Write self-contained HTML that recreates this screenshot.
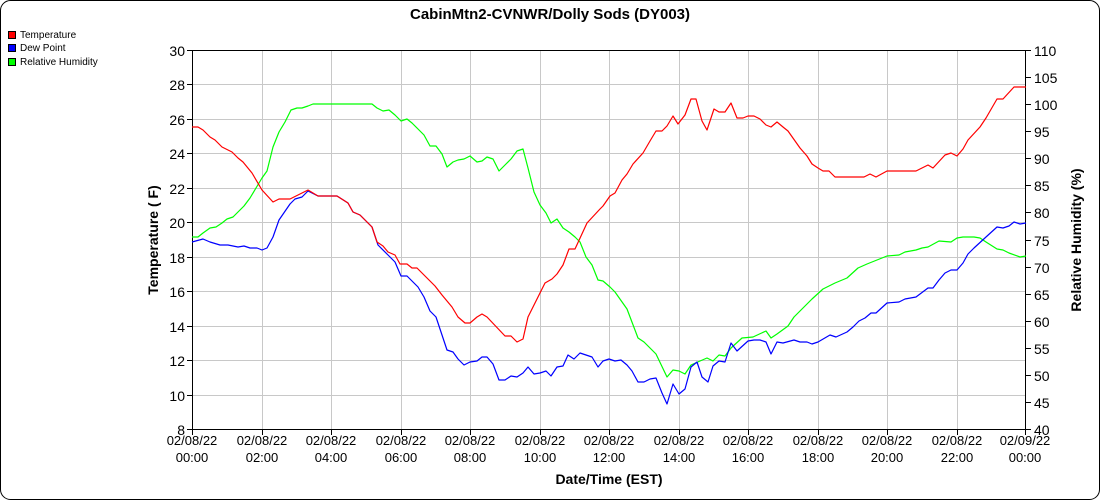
<!DOCTYPE html>
<html><head><meta charset="utf-8"><style>
html,body{margin:0;padding:0;background:#fff}
svg{display:block;font-family:"Liberation Sans",Arial,sans-serif}
</style></head><body>
<svg width="1100" height="500" viewBox="0 0 1100 500" xmlns="http://www.w3.org/2000/svg">
<rect x="0.5" y="0.5" width="1099" height="499" rx="10" ry="10" fill="#fff" stroke="#000"/>
<text x="550" y="19" text-anchor="middle" font-size="15" font-weight="bold">CabinMtn2-CVNWR/Dolly Sods (DY003)</text>
<rect x="8.5" y="31.5" width="7" height="7" fill="#f00" stroke="#000"/>
<text x="20" y="38" font-size="10">Temperature</text>
<rect x="8.5" y="44.5" width="7" height="7" fill="#00f" stroke="#000"/>
<text x="20" y="51" font-size="10">Dew Point</text>
<rect x="8.5" y="58.5" width="7" height="7" fill="#0f0" stroke="#000"/>
<text x="20" y="65" font-size="10">Relative Humidity</text>
<g stroke="#c8c8c8" stroke-width="1">
<line x1="192" y1="84.5" x2="1026" y2="84.5"/><line x1="192" y1="119.5" x2="1026" y2="119.5"/><line x1="192" y1="153.5" x2="1026" y2="153.5"/><line x1="192" y1="188.5" x2="1026" y2="188.5"/><line x1="192" y1="222.5" x2="1026" y2="222.5"/><line x1="192" y1="257.5" x2="1026" y2="257.5"/><line x1="192" y1="291.5" x2="1026" y2="291.5"/><line x1="192" y1="326.5" x2="1026" y2="326.5"/><line x1="192" y1="360.5" x2="1026" y2="360.5"/><line x1="192" y1="395.5" x2="1026" y2="395.5"/>
<line x1="262.5" y1="50" x2="262.5" y2="430"/><line x1="331.5" y1="50" x2="331.5" y2="430"/><line x1="401.5" y1="50" x2="401.5" y2="430"/><line x1="470.5" y1="50" x2="470.5" y2="430"/><line x1="540.5" y1="50" x2="540.5" y2="430"/><line x1="609.5" y1="50" x2="609.5" y2="430"/><line x1="679.5" y1="50" x2="679.5" y2="430"/><line x1="748.5" y1="50" x2="748.5" y2="430"/><line x1="818.5" y1="50" x2="818.5" y2="430"/><line x1="887.5" y1="50" x2="887.5" y2="430"/><line x1="957.5" y1="50" x2="957.5" y2="430"/>
</g>
<rect x="192.5" y="50.5" width="833" height="379" fill="none" stroke="#000"/>
<g stroke="#000">
<line x1="187" y1="50.5" x2="192" y2="50.5"/><line x1="187" y1="84.5" x2="192" y2="84.5"/><line x1="187" y1="119.5" x2="192" y2="119.5"/><line x1="187" y1="153.5" x2="192" y2="153.5"/><line x1="187" y1="188.5" x2="192" y2="188.5"/><line x1="187" y1="222.5" x2="192" y2="222.5"/><line x1="187" y1="257.5" x2="192" y2="257.5"/><line x1="187" y1="291.5" x2="192" y2="291.5"/><line x1="187" y1="326.5" x2="192" y2="326.5"/><line x1="187" y1="360.5" x2="192" y2="360.5"/><line x1="187" y1="395.5" x2="192" y2="395.5"/><line x1="187" y1="429.5" x2="192" y2="429.5"/>
<line x1="1026" y1="50.5" x2="1031" y2="50.5"/><line x1="1026" y1="77.5" x2="1031" y2="77.5"/><line x1="1026" y1="104.5" x2="1031" y2="104.5"/><line x1="1026" y1="131.5" x2="1031" y2="131.5"/><line x1="1026" y1="158.5" x2="1031" y2="158.5"/><line x1="1026" y1="185.5" x2="1031" y2="185.5"/><line x1="1026" y1="212.5" x2="1031" y2="212.5"/><line x1="1026" y1="240.5" x2="1031" y2="240.5"/><line x1="1026" y1="267.5" x2="1031" y2="267.5"/><line x1="1026" y1="294.5" x2="1031" y2="294.5"/><line x1="1026" y1="321.5" x2="1031" y2="321.5"/><line x1="1026" y1="348.5" x2="1031" y2="348.5"/><line x1="1026" y1="375.5" x2="1031" y2="375.5"/><line x1="1026" y1="402.5" x2="1031" y2="402.5"/><line x1="1026" y1="429.5" x2="1031" y2="429.5"/>
<line x1="192.5" y1="430" x2="192.5" y2="435"/><line x1="262.5" y1="430" x2="262.5" y2="435"/><line x1="331.5" y1="430" x2="331.5" y2="435"/><line x1="401.5" y1="430" x2="401.5" y2="435"/><line x1="470.5" y1="430" x2="470.5" y2="435"/><line x1="540.5" y1="430" x2="540.5" y2="435"/><line x1="609.5" y1="430" x2="609.5" y2="435"/><line x1="679.5" y1="430" x2="679.5" y2="435"/><line x1="748.5" y1="430" x2="748.5" y2="435"/><line x1="818.5" y1="430" x2="818.5" y2="435"/><line x1="887.5" y1="430" x2="887.5" y2="435"/><line x1="957.5" y1="430" x2="957.5" y2="435"/><line x1="1025.5" y1="430" x2="1025.5" y2="435"/>
</g>
<g font-size="14" text-anchor="end">
<text x="185" y="56">30</text><text x="185" y="90">28</text><text x="185" y="125">26</text><text x="185" y="159">24</text><text x="185" y="194">22</text><text x="185" y="228">20</text><text x="185" y="263">18</text><text x="185" y="297">16</text><text x="185" y="332">14</text><text x="185" y="366">12</text><text x="185" y="401">10</text><text x="185" y="435">8</text>
</g>
<g font-size="14">
<text x="1034" y="56">110</text><text x="1034" y="83">105</text><text x="1034" y="110">100</text><text x="1034" y="137">95</text><text x="1034" y="164">90</text><text x="1034" y="191">85</text><text x="1034" y="218">80</text><text x="1034" y="246">75</text><text x="1034" y="273">70</text><text x="1034" y="300">65</text><text x="1034" y="327">60</text><text x="1034" y="354">55</text><text x="1034" y="381">50</text><text x="1034" y="408">45</text><text x="1034" y="435">40</text>
</g>
<g font-size="13" text-anchor="middle">
<text x="192" y="445">02/08/22</text><text x="192" y="462">00:00</text>
<text x="262" y="445">02/08/22</text><text x="262" y="462">02:00</text>
<text x="331" y="445">02/08/22</text><text x="331" y="462">04:00</text>
<text x="401" y="445">02/08/22</text><text x="401" y="462">06:00</text>
<text x="470" y="445">02/08/22</text><text x="470" y="462">08:00</text>
<text x="540" y="445">02/08/22</text><text x="540" y="462">10:00</text>
<text x="609" y="445">02/08/22</text><text x="609" y="462">12:00</text>
<text x="679" y="445">02/08/22</text><text x="679" y="462">14:00</text>
<text x="748" y="445">02/08/22</text><text x="748" y="462">16:00</text>
<text x="818" y="445">02/08/22</text><text x="818" y="462">18:00</text>
<text x="887" y="445">02/08/22</text><text x="887" y="462">20:00</text>
<text x="957" y="445">02/08/22</text><text x="957" y="462">22:00</text>
<text x="1025" y="445">02/09/22</text><text x="1025" y="462">00:00</text>
</g>
<text x="609" y="484" font-size="14" font-weight="bold" text-anchor="middle">Date/Time (EST)</text>
<text transform="translate(158,240) rotate(-90)" font-size="14" font-weight="bold" text-anchor="middle">Temperature ( F)</text>
<text transform="translate(1081,240) rotate(-90)" font-size="14" font-weight="bold" text-anchor="middle">Relative Humidity (%)</text>
<g fill="none" stroke-width="1.2" stroke-linejoin="round">
<polyline stroke="#0f0" points="192,237 198,237 203,233 210,228 216,227 222,223 227,219 233,217 238,212 244,206 250,198 256,188 262,178 267,171 273,147 279,132 285,122 291,110 297,108 302,108 308,106 313,104 372,104 377,108 383,111 389,110 395,115 401,121 407,119 412,123 418,129 424,135 430,146 436,146 442,154 447,167 453,162 458,160 464,159 470,156 477,162 482,161 487,157 493,159 499,171 505,165 511,159 517,151 523,149 528,168 534,192 540,205 546,213 551,223 557,219 563,228 569,232 575,237 580,242 586,257 592,265 598,280 603,281 610,287 615,292 627,309 638,338 644,342 656,354 667,377 673,370 679,371 685,374 691,365 700,361 707,358 713,361 719,355 725,356 731,348 742,338 753,337 766,331 771,338 777,334 788,326 794,317 812,299 823,289 835,283 847,278 858,268 867,264 877,260 887,256 899,255 905,252 916,250 922,248 928,247 939,241 951,242 957,238 963,237 974,237 980,238 986,242 997,249 1003,250 1009,253 1020,257 1026,256"/>
<polyline stroke="#00f" points="192,242 203,239 210,242 220,245 228,245 238,247 244,246 250,248 257,248 262,250 267,248 273,237 279,220 290,204 295,199 302,197 308,191 318,196 337,196 348,203 353,212 360,215 372,227 378,245 388,255 395,262 401,276 407,276 413,282 418,287 424,297 430,311 436,317 447,350 453,352 458,359 464,365 470,362 477,361 482,357 487,357 493,364 499,380 505,380 511,376 517,377 523,373 528,367 534,374 540,373 546,371 551,376 557,367 563,366 568,355 574,359 580,353 586,355 592,357 598,367 603,361 609,359 615,361 621,360 627,365 632,371 638,382 644,382 650,379 656,378 662,393 667,404 673,384 679,394 685,389 691,367 697,362 702,377 708,382 713,366 719,361 725,362 731,343 737,351 748,341 754,340 760,340 766,342 771,354 777,342 783,343 794,340 800,342 807,342 812,344 818,342 830,335 836,337 847,332 853,327 859,321 865,318 871,313 876,313 887,303 899,302 905,299 916,297 928,288 933,288 939,280 945,273 951,270 957,270 963,263 968,254 974,248 986,237 997,227 1003,228 1009,226 1014,222 1020,224 1026,223"/>
<polyline stroke="#f00" points="192,127 198,127 203,130 210,137 215,140 222,147 232,152 238,158 243,162 252,173 262,190 273,202 279,199 290,199 308,190 318,196 337,196 348,203 353,212 360,215 372,227 377,242 383,246 388,252 395,255 400,264 407,264 412,268 417,268 435,286 442,295 452,307 458,317 465,323 470,323 477,317 482,314 487,317 505,336 511,336 517,342 523,339 528,317 540,293 545,283 552,279 557,274 563,265 569,249 575,249 587,223 600,209 603,206 610,196 615,193 622,180 627,174 633,164 643,153 650,141 656,131 662,131 667,126 673,116 678,124 685,115 691,99 696,99 702,121 707,130 714,109 719,112 725,112 731,103 737,118 743,118 748,116 754,116 760,119 766,125 771,127 777,122 783,127 788,131 800,148 807,156 812,164 818,168 823,171 829,171 835,177 864,177 870,174 876,177 887,171 916,171 928,165 933,168 945,155 951,153 957,156 963,149 968,140 980,127 986,118 997,99 1003,99 1014,87 1026,87"/>
</g>
</svg>
</body></html>
